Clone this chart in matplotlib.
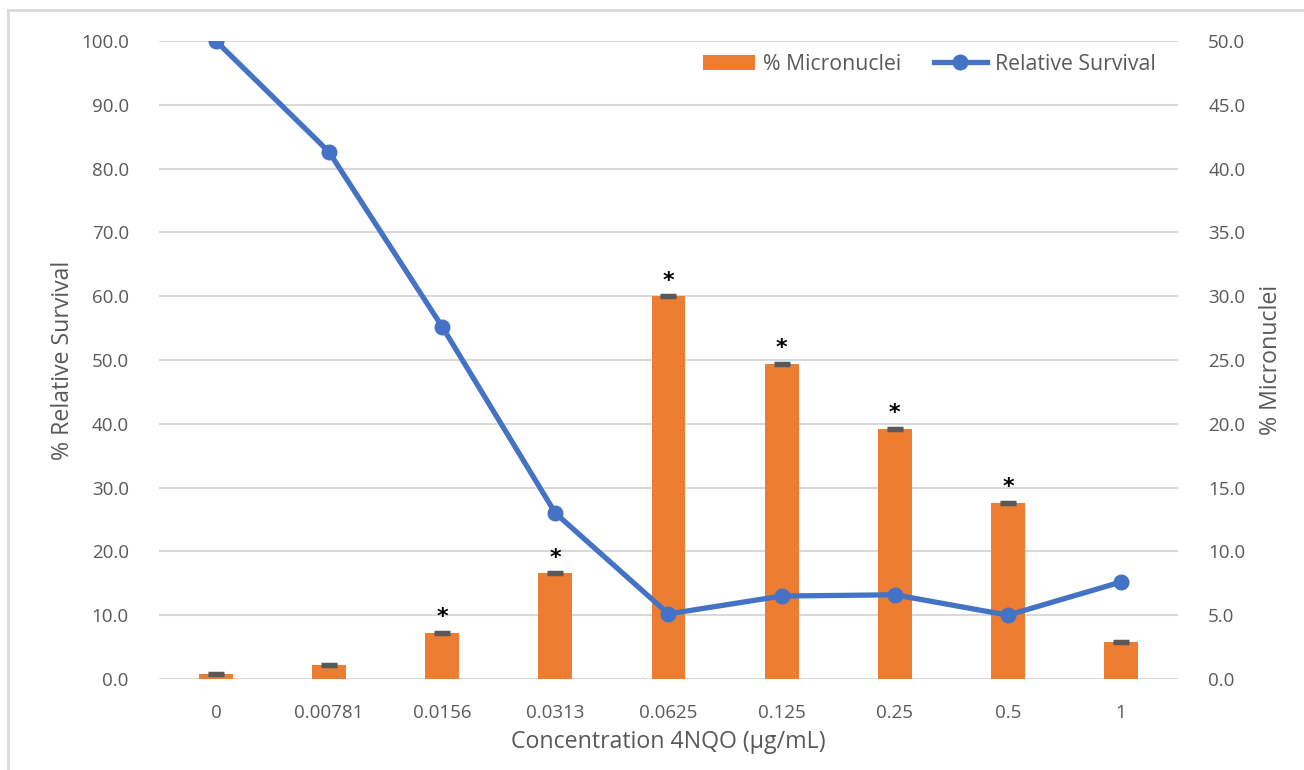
import matplotlib
matplotlib.use("Agg")
import matplotlib.pyplot as plt
from matplotlib.lines import Line2D
from matplotlib.patches import Patch
import numpy as np

plt.rcParams['font.family'] = ['Open Sans', 'DejaVu Sans']

concentrations = ["0", "0.00781", "0.0156", "0.0313", "0.0625", "0.125", "0.25", "0.5", "1"]
relative_survival = [100.0, 82.6, 55.2, 26.0, 10.2, 13.0, 13.2, 10.0, 15.2]
micronuclei = [0.4, 1.1, 3.6, 8.3, 30.0, 24.7, 19.6, 13.8, 2.9]
micronuclei_err = [0.1, 0.1, 0.1, 0.1, 0.1, 0.1, 0.1, 0.1, 0.1]
significant = [False, False, True, True, True, True, True, True, False]

ORANGE = "#ED7D31"
BLUE = "#4472C4"
GRID = "#D9D9D9"
TEXT = "#595959"

fig = plt.figure(figsize=(13.04, 7.70), dpi=100)
ax = fig.add_axes([0.1222, 0.1182, 0.7809, 0.8286])
ax2 = ax.twinx()

x = np.arange(len(concentrations))

# Micronuclei bars on the secondary axis
ax2.bar(x, micronuclei, width=0.30, color=ORANGE, zorder=2)
ax2.errorbar(x, micronuclei, yerr=micronuclei_err, fmt="none", ecolor="#595959",
             elinewidth=2.5, capsize=6, capthick=2.5, zorder=3)
for xi, v, sig in zip(x, micronuclei, significant):
    if sig:
        ax2.annotate("*", (xi, v), xytext=(0, 4), textcoords="offset points",
                     ha="center", va="bottom", fontsize=16, color="black",
                     family="DejaVu Sans", fontweight="bold")

# Relative survival line on the primary axis, drawn above the bars
ax.set_zorder(ax2.get_zorder() + 1)
ax.patch.set_visible(False)
ax.plot(x, relative_survival, color=BLUE, linewidth=3.8, marker="o",
        markersize=10.5, zorder=4)

ax.set_xlim(-0.5, len(concentrations) - 0.5)
ax.set_ylim(0, 100)
ax2.set_ylim(0, 50)
ax.set_yticks(np.arange(0, 101, 10))
ax2.set_yticks(np.arange(0, 51, 5))
ax.set_yticklabels([f"{v:.1f}" for v in np.arange(0, 101, 10)])
ax2.set_yticklabels([f"{v:.1f}" for v in np.arange(0, 51, 5)])
ax.set_xticks(x)
ax.set_xticklabels(concentrations)

# Gridlines sit beneath the bars, so they belong to the bar axis
ax.yaxis.grid(False)
ax2.yaxis.grid(True, color=GRID, linewidth=1.5)
ax2.set_axisbelow(True)

for a in (ax, ax2):
    for s in a.spines.values():
        s.set_visible(False)
    a.tick_params(length=0, colors=TEXT, labelsize=13.5)
ax.tick_params(axis="y", pad=22)
ax2.tick_params(axis="y", pad=22)
ax.tick_params(axis="x", pad=18)

ax.set_ylabel("% Relative Survival", fontsize=16.7, color=TEXT, labelpad=4)
ax2.set_ylabel("% Micronuclei", fontsize=16.7, color=TEXT, labelpad=10)
ax.set_xlabel("Concentration 4NQO (µg/mL)", fontsize=16.7, color=TEXT, labelpad=6)

handles = [Patch(facecolor=ORANGE, edgecolor="none"),
           Line2D([0], [0], color=BLUE, linewidth=3.8, marker="o", markersize=10.5)]
ax.legend(handles, ["% Micronuclei", "Relative Survival"], ncol=2, frameon=False,
          loc="upper right", bbox_to_anchor=(0.997, 1.01), fontsize=15.3,
          labelcolor=TEXT, handlelength=2.45, handletextpad=0.38, columnspacing=1.55)

# Chart border
fig.add_artist(Line2D([8 / 1304, 8 / 1304], [0, 1 - 10 / 770], color=GRID,
                      linewidth=2, transform=fig.transFigure))
fig.add_artist(Line2D([8 / 1304, 1.0], [1 - 10 / 770, 1 - 10 / 770], color=GRID,
                      linewidth=2, transform=fig.transFigure))

fig.savefig("out.png", dpi=100)
